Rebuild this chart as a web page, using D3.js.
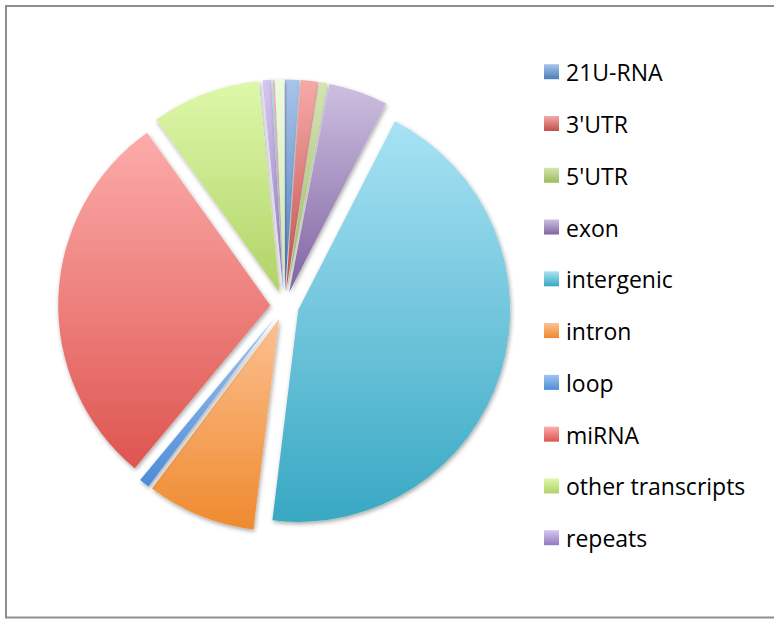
<!DOCTYPE html>
<html>
<head>
<meta charset="utf-8">
<script src="https://cdn.jsdelivr.net/npm/d3@7"></script>
<style>
  body { margin: 0; background: #fff; }
  svg { display: block; }
</style>
</head>
<body>
<svg id="chart"></svg>
<script>
// categories in drawing order (clockwise from 12 o'clock)
let categories = ['21U-RNA', "3'UTR", "5'UTR", 'exon', 'intergenic', 'intron', 'loop', 'miRNA',
  'other transcripts', 'repeats', 'unlisted 1', 'unlisted 2', 'unlisted 3'];
// share of reads, percent
let values = [1.1, 1.35, 0.6, 4.5, 44.4, 8.3, 0.8, 29.1, 8.3, 0.64, 0.1, 0.13, 0.7];
// only the first ten fit in the legend
let legendCount = 10;
// gradient stops: light (top) and dark (bottom)
let lightColors = ['#aac4ea', '#f5aaa8', '#d4e5b2', '#cdbfe0', '#a8e2f4', '#fcc091', '#a0c6f2',
  '#fcacaa', '#def8aa', '#d5c6f0', '#b7ecf8', '#f9c4c2', '#eefade'];
let darkColors = ['#4a7ebb', '#c0504d', '#9bbb59', '#8064a2', '#38a8c3', '#ef8a2e', '#4d8cd6',
  '#de5550', '#b0d366', '#9378c2', '#6fc8dd', '#e88f8b', '#cde6b0'];

let width = 774;
let height = 619;

let svg = d3.select('#chart')
  .attr('width', width)
  .attr('height', height);

let defs = svg.append('defs');

// soft drop shadow like the office chart style
defs.append('filter')
    .attr('id', 'shadow')
    .attr('x', '-20%').attr('y', '-20%')
    .attr('width', '140%').attr('height', '140%')
  .append('feDropShadow')
    .attr('dx', 1)
    .attr('dy', 2)
    .attr('stdDeviation', 2)
    .attr('flood-color', '#000')
    .attr('flood-opacity', 0.35);

categories.forEach((c, i) => {
  let g = defs.append('linearGradient')
      .attr('id', 'grad' + i)
      .attr('x1', 0).attr('y1', 0)
      .attr('x2', 0).attr('y2', 1);
  g.append('stop').attr('offset', '0%').attr('stop-color', lightColors[i]);
  g.append('stop').attr('offset', '100%').attr('stop-color', darkColors[i]);
});

// frame
svg.append('rect')
    .attr('x', 6)
    .attr('y', 6)
    .attr('width', 800)
    .attr('height', 611.5)
    .attr('fill', '#fff')
    .attr('stroke', '#8e8e8e')
    .attr('stroke-width', 2);

// pie
let cx = 284.5;
let cy = 305.7;
let radius = 212;
let explode = 14.3;

let data = categories.map((c, i) => ({ name: c, value: values[i], index: i }));

let pie = d3.pie()
  .sort(null)
  .value(d => d.value);

let arc = d3.arc()
  .innerRadius(0)
  .outerRadius(radius);

let slices = svg.append('g')
    .attr('transform', `translate(${cx},${cy})`)
  .selectAll('path')
    .data(pie(data))
    .enter()
    .append('path')
      .attr('d', arc)
      .attr('fill', d => `url(#grad${d.data.index})`)
      .attr('filter', 'url(#shadow)')
      .attr('transform', d => {
        let mid = (d.startAngle + d.endAngle) / 2;
        return `translate(${explode * Math.sin(mid)},${-explode * Math.cos(mid)})`;
      });

// legend
let legendY = d3.scaleLinear()
  .domain([0, legendCount - 1])
  .range([71.7, 537.7]);

let legend = svg.append('g')
  .selectAll('g')
    .data(data.slice(0, legendCount))
    .enter()
    .append('g')
      .attr('transform', (d, i) => `translate(544,${legendY(i)})`);

legend.append('rect')
    .attr('x', 0)
    .attr('y', -7.5)
    .attr('width', 15)
    .attr('height', 15)
    .attr('fill', d => `url(#grad${d.index})`);

legend.append('text')
    .attr('x', 22)
    .attr('y', 9.5)
    .attr('font-family', "'Open Sans', sans-serif")
    .attr('font-size', 23)
    .attr('fill', '#000')
    .text(d => d.name);
</script>
</body>
</html>
